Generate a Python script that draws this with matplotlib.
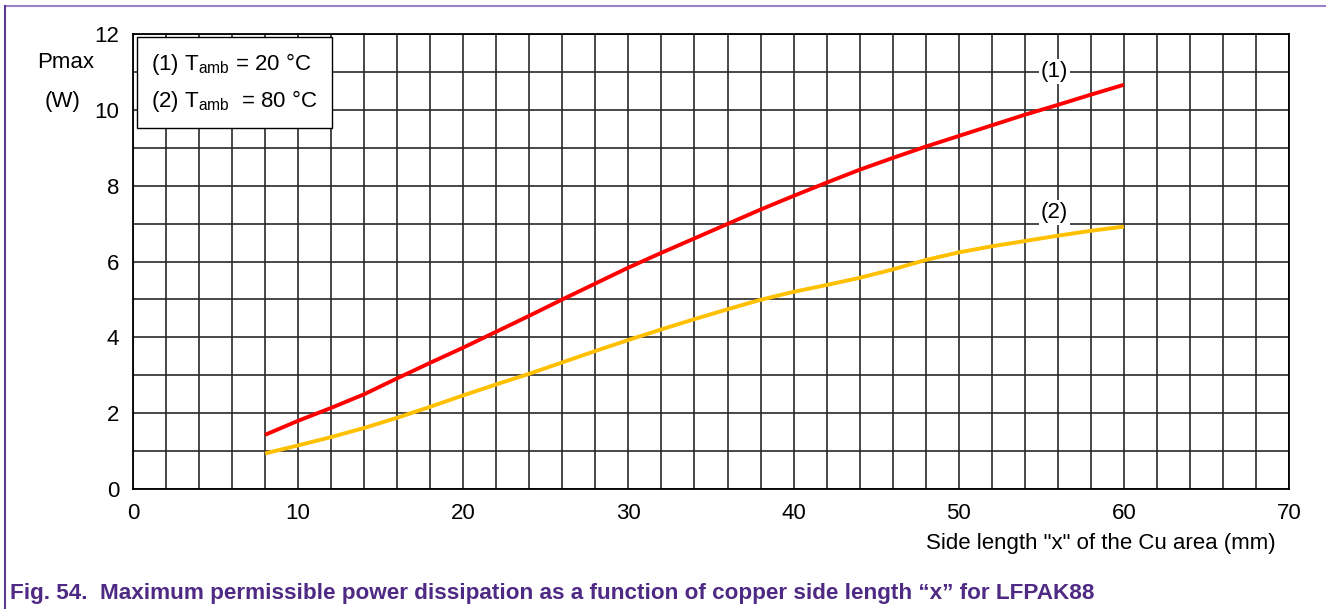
import matplotlib.pyplot as plt
from matplotlib.lines import Line2D

plt.rcParams['font.family'] = ['Liberation Sans', 'DejaVu Sans']

# side length x (mm)
x_mm = [8, 10, 12, 14, 16, 18, 20, 22, 24, 26, 28, 30, 32, 34, 36, 38, 40,
        42, 44, 46, 48, 50, 52, 54, 56, 58, 60]
# (1) Tamb = 20 degC
p_20 = [1.43, 1.80, 2.14, 2.50, 2.92, 3.33, 3.73, 4.15, 4.57, 5.00, 5.42,
        5.84, 6.23, 6.61, 6.99, 7.37, 7.73, 8.08, 8.42, 8.73, 9.03, 9.31,
        9.59, 9.87, 10.13, 10.40, 10.66]
# (2) Tamb = 80 degC
p_80 = [0.94, 1.15, 1.37, 1.61, 1.88, 2.17, 2.47, 2.76, 3.04, 3.34, 3.64,
        3.93, 4.21, 4.48, 4.74, 4.99, 5.20, 5.38, 5.57, 5.79, 6.04, 6.24,
        6.40, 6.54, 6.68, 6.81, 6.92]

fig = plt.figure(figsize=(13.26, 6.09), dpi=100)
ax = fig.add_axes([0.1003, 0.197, 0.8718, 0.7472])

ax.set_xlim(0, 70)
ax.set_ylim(0, 12)
ax.set_xticks(range(0, 71, 10))
ax.set_yticks(range(0, 13, 2))
ax.set_xticks(range(0, 71, 2), minor=True)
ax.set_yticks(range(0, 13, 1), minor=True)
ax.grid(which='both', color='#2a2a2a', lw=1.2)
ax.set_axisbelow(True)
ax.tick_params(which='both', length=0, labelsize=16)
ax.tick_params(axis='y', pad=10)
ax.tick_params(axis='x', pad=10)
for s in ax.spines.values():
    s.set_color('black')
    s.set_linewidth(1.3)

ax.plot(x_mm, p_20, color='#ff0000', lw=2.8, solid_capstyle='butt')
ax.plot(x_mm, p_80, color='#ffc000', lw=2.8, solid_capstyle='butt')

ax.text(55.8, 11.0, '(1)', ha='center', va='center', fontsize=16,
        bbox=dict(facecolor='white', edgecolor='none', pad=1.5))
ax.text(55.8, 7.3, '(2)', ha='center', va='center', fontsize=16,
        bbox=dict(facecolor='white', edgecolor='none', pad=1.5))

leg_txt = (r'(1) T$_\mathregular{amb}$ = 20 °C' + '\n' +
           r'(2) T$_\mathregular{amb}$  = 80 °C')
ax.text(1.1, 11.55, leg_txt, ha='left', va='top', fontsize=16,
        linespacing=1.6, zorder=5,
        bbox=dict(facecolor='white', edgecolor='black', lw=1.0,
                  boxstyle='square,pad=0.62'))

fig.text(66 / 1326, 1 - 62 / 609, 'Pmax', ha='center', va='center', fontsize=16)
fig.text(63 / 1326, 1 - 101 / 609, '(W)', ha='center', va='center', fontsize=16)
fig.text(1276 / 1326, 1 - 543 / 609, 'Side length "x" of the Cu area (mm)',
         ha='right', va='center', fontsize=16)

fig.text(10 / 1326, 1 - 593 / 609,
         'Fig. 54.  Maximum permissible power dissipation as a function of '
         'copper side length \u201cx\u201d for LFPAK88',
         ha='left', va='center', fontsize=16.2, fontweight='bold',
         color='#4f2a84')

# document frame
fig.add_artist(Line2D([5 / 1326, 1], [1 - 6 / 609, 1 - 6 / 609],
                      transform=fig.transFigure, color='#9b80c8', lw=1.5))
fig.add_artist(Line2D([5 / 1326, 5 / 1326], [1 - 6 / 609, 0],
                      transform=fig.transFigure, color='#5b3a96', lw=1.5))

fig.savefig('out.png', dpi=100)
